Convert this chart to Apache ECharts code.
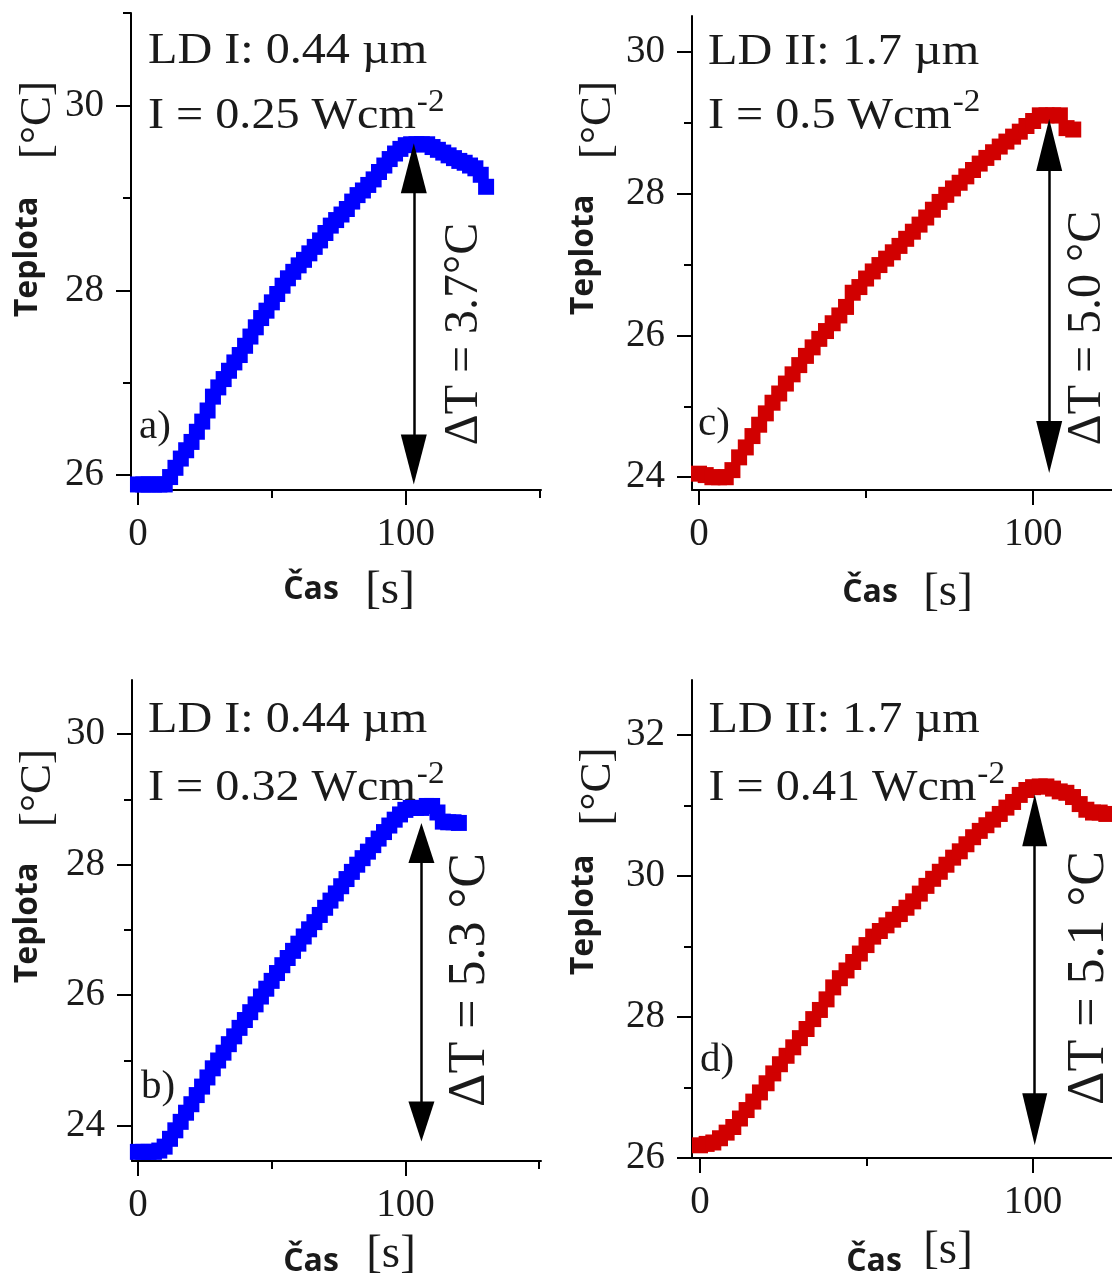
<!DOCTYPE html>
<html>
<head>
<meta charset="utf-8">
<script src="https://cdn.jsdelivr.net/npm/echarts@6/dist/echarts.min.js"></script>
<style>
html,body{margin:0;padding:0;background:#fff;}
#chart{width:1112px;height:1276px;}
</style>
</head>
<body>
<div id="chart"></div>
<script>
// time samples [s]
const timeS = [0,2,4,6,8,10,12,14,16,18,20,22,24,26,28,30,32,34,36,38,40,42,44,46,48,50,52,54,56,58,60,62,64,66,68,70,72,74,76,78,80,82,84,86,88,90,92,94,96,98,100,102,104,106,108,110,112,114,116,118,120,122,124,126,128,130];

// a) LD I, 0.25 W/cm2
const tempA = [25.9,25.9,25.9,25.9,25.9,25.9,
 25.98,26.08,26.18,26.27,26.36,26.47,26.58,26.7,26.85,26.95,
 27.04,27.13,27.22,27.3,27.4,27.5,27.6,27.7,27.78,27.87,
 27.96,28.05,28.13,28.2,28.27,28.33,28.4,28.47,28.54,28.62,
 28.7,28.76,28.82,28.88,28.96,29.03,29.08,29.14,29.2,29.28,
 29.35,29.42,29.48,29.53,29.57,29.58,29.58,29.58,29.58,29.55,
 29.52,29.49,29.46,29.43,29.4,29.38,29.35,29.32,29.25,29.12];
// b) LD I, 0.32 W/cm2
const tempB = [23.6,23.6,23.6,23.6,23.62,23.68,
 23.8,23.93,24.06,24.2,24.33,24.47,24.6,24.74,24.88,25.0,
 25.12,25.25,25.37,25.5,25.62,25.74,25.86,25.98,26.1,26.22,
 26.34,26.46,26.57,26.68,26.79,26.9,27.01,27.12,27.23,27.34,
 27.45,27.56,27.67,27.78,27.89,28.0,28.1,28.2,28.3,28.4,
 28.5,28.6,28.69,28.77,28.84,28.87,28.87,28.87,28.9,28.9,
 28.8,28.66,28.65,28.65,28.64];
// c) LD II, 0.5 W/cm2
const tempC = [24.05,24.03,24.0,24.0,24.0,24.1,
 24.28,24.42,24.58,24.74,24.9,25.05,25.18,25.32,25.45,25.58,
 25.71,25.83,25.95,26.06,26.17,26.28,26.4,26.6,26.68,26.8,
 26.9,26.99,27.08,27.17,27.26,27.36,27.46,27.56,27.66,27.77,
 27.88,27.98,28.07,28.15,28.24,28.33,28.42,28.5,28.58,28.66,
 28.73,28.8,28.87,28.95,29.02,29.1,29.1,29.1,29.1,28.92,
 28.9];
// d) LD II, 0.41 W/cm2
const tempD = [26.18,26.2,26.22,26.28,26.36,26.44,
 26.56,26.68,26.8,26.93,27.06,27.2,27.33,27.45,27.57,27.7,
 27.83,27.97,28.1,28.25,28.42,28.55,28.66,28.78,28.9,29.02,
 29.14,29.22,29.3,29.38,29.46,29.55,29.64,29.75,29.86,29.96,
 30.06,30.16,30.26,30.35,30.45,30.55,30.64,30.72,30.8,30.88,
 30.97,31.05,31.15,31.22,31.26,31.27,31.27,31.24,31.2,31.18,
 31.12,31.02,30.94,30.9,30.9,30.88];

// delta-T arrows: time position, lower tip, upper tip
const arrowX    = [103, 106, 104.8, 100.5];
const arrowLow  = [25.9, 23.76, 24.06, 26.18];
const arrowHigh = [29.59, 28.64, 29.05, 31.16];

// axis ranges and ticks
const xMin = [-2.6, -2.2, -2.1, -2.4];
const xMax = [150.5, 150.7, 123.6, 123.7];
const yMin = [25.84, 23.46, 23.82, 26];
const yMax = [31.0, 30.83, 30.5, 32.78];
const xMajor = [0, 100];
const xMinorAB = [50, 150];
const xMinorCD = [50];
const yMajorA = [26, 28, 30], yMinorA = [27, 29, 31];
const yMajorB = [24, 26, 28, 30], yMinorB = [25, 27, 29];
const yMajorC = [24, 26, 28, 30], yMinorC = [25, 27, 29];
const yMajorD = [26, 28, 30, 32], yMinorD = [27, 29, 31];

const panelLabels = ['a)', 'b)', 'c)', 'd)'];
const line1 = ['LD I: 0.44 \u00b5m', 'LD I: 0.44 \u00b5m', 'LD II: 1.7 \u00b5m', 'LD II: 1.7 \u00b5m'];
const line2 = ['I = 0.25 Wcm', 'I = 0.32 Wcm', 'I = 0.5 Wcm', 'I = 0.41 Wcm'];
const supText = '-2';
const dtText = ['\u0394T = 3.7\u00b0C', '\u0394T = 5.3 \u00b0C', '\u0394T = 5.0 \u00b0C', '\u0394T = 5.1 \u00b0C'];

const BLUE = '#0000ff', RED = '#d10000';
const SERIF = 'Liberation Serif';
const SANS = 'Open Sans';

// panel layout (order a, b, c, d)
const grids = [
  {left:131, top:13,  width:410, height:477},
  {left:132, top:680, width:409, height:481},
  {left:692, top:16,  width:420, height:474},
  {left:692, top:680, width:420, height:478}
];
const temps = [tempA, tempB, tempC, tempD];
const colors = [BLUE, BLUE, RED, RED];
const yMajors = [yMajorA, yMajorB, yMajorC, yMajorD];
const yMinors = [yMinorA, yMinorB, yMinorC, yMinorD];
const xMinors = [xMinorAB, xMinorAB, xMinorCD, xMinorCD];

const xAxes = [], yAxes = [], series = [];
const HEAD_H = [50, 40, 52, 52];
const HEAD_W = [26, 26, 26, 25];
for (let i = 0; i < 4; i++) {
  const axisLine = {show:true, onZero:false, lineStyle:{color:'#000', width:2}};
  xAxes.push({gridIndex:i, type:'value', position:'bottom', min:xMin[i], max:xMax[i],
    axisLine: axisLine,
    axisTick:{show:true, length:15, customValues:xMajor, lineStyle:{color:'#000', width:2}},
    axisLabel:{show:true, customValues:xMajor, margin:25, fontFamily:SERIF, fontSize:39, color:'#1a1a1a'},
    splitLine:{show:false}});
  xAxes.push({gridIndex:i, type:'value', position:'bottom', min:xMin[i], max:xMax[i],
    axisLine:{show:false, onZero:false},
    axisTick:{show:true, length:8, customValues:xMinors[i], lineStyle:{color:'#000', width:2}},
    axisLabel:{show:false}, splitLine:{show:false}});
  yAxes.push({gridIndex:i, type:'value', position:'left', min:yMin[i], max:yMax[i],
    axisLine: axisLine,
    axisTick:{show:true, length:15, customValues:yMajors[i], lineStyle:{color:'#000', width:2}},
    axisLabel:{show:true, customValues:yMajors[i], margin:27, fontFamily:SERIF, fontSize:39, color:'#1a1a1a'},
    splitLine:{show:false}});
  yAxes.push({gridIndex:i, type:'value', position:'left', min:yMin[i], max:yMax[i],
    axisLine:{show:false, onZero:false},
    axisTick:{show:true, length:8, customValues:yMinors[i], lineStyle:{color:'#000', width:2}},
    axisLabel:{show:false}, splitLine:{show:false}});

  const pts = temps[i].map((v, k) => [timeS[k], v]);
  // arrow: symbols are centred on the end points, so pull ends in by half the head length
  const pxPerUnit = grids[i].height / (yMax[i] - yMin[i]);
  const inset = (HEAD_H[i] / 2) / pxPerUnit;
  series.push({
    type:'scatter', xAxisIndex:2*i, yAxisIndex:2*i, data:pts,
    symbol:'rect', symbolSize:16, itemStyle:{color:colors[i], opacity:1},
    silent:true, animation:false,
    markLine:{silent:true, animation:false, symbol:['triangle','triangle'], symbolSize:[HEAD_W[i], HEAD_H[i]],
      lineStyle:{color:'#000', width:2.5, type:'solid'}, label:{show:false},
      itemStyle:{color:'#000'},
      emphasis:{disabled:true},
      data:[[{coord:[arrowX[i], arrowLow[i] + inset]}, {coord:[arrowX[i], arrowHigh[i] - inset]}]]}
  });
}

const measureCtx = document.createElement('canvas').getContext('2d');
function textWidth(t, size, family) {
  measureCtx.font = size + 'px "' + family + '"';
  return measureCtx.measureText(t).width;
}

function txt(t, x, y, size, opts) {
  opts = opts || {};
  return {type:'text', x:x, y:y, rotation:opts.rot || 0, scaleX:opts.sx || 1, silent:true, z:10,
    style:{text:t, fill:'#1a1a1a', fontSize:size, fontFamily:opts.family || SERIF,
      fontWeight:opts.weight || 'normal',
      align:opts.align || 'left', verticalAlign:'middle',
      textAlign:opts.align || 'left', textVerticalAlign:'middle'}};
}
const R = Math.PI / 2;
const ANN = 45, ANN_SX = 1.07, SUP = 31;
function header(i, left, y1, y2) {
  const w = textWidth(line2[i], ANN, SERIF) * ANN_SX;
  return [
    txt(line1[i], left, y1, ANN, {sx:ANN_SX}),
    txt(line2[i], left, y2, ANN, {sx:ANN_SX}),
    txt(supText, left + w + 1, y2 - 13, SUP, {sx:ANN_SX})
  ];
}
const graphic = [].concat(
  // panel a
  header(0, 148, 51, 116),
  [txt(panelLabels[0], 139, 427, 41),
  txt(dtText[0], 464, 334, 48, {rot:R, align:'center'}),
  txt('Teplota', 28, 257, 32, {rot:R, align:'center', family:SANS, weight:'bold'}),
  txt('[\u00b0C]', 38.5, 120, 45, {rot:R, align:'center'}),
  txt('\u010cas', 311, 590, 32, {align:'center', family:SANS, weight:'bold'}),
  txt('[s]', 390, 591, 47, {align:'center'})],
  // panel c
  header(2, 708, 52.5, 116),
  [txt(panelLabels[2], 698, 424, 41),
  txt(dtText[2], 1087, 328, 48, {rot:R, align:'center'}),
  txt('Teplota', 584, 255, 32, {rot:R, align:'center', family:SANS, weight:'bold'}),
  txt('[\u00b0C]', 598, 120, 45, {rot:R, align:'center'}),
  txt('\u010cas', 870, 593, 32, {align:'center', family:SANS, weight:'bold'}),
  txt('[s]', 948, 593, 47, {align:'center'})],
  // panel b
  header(1, 148, 720, 788),
  [txt(panelLabels[1], 141, 1087, 41),
  txt(dtText[1], 470, 980, 52, {rot:R, align:'center'}),
  txt('Teplota', 28, 923, 32, {rot:R, align:'center', family:SANS, weight:'bold'}),
  txt('[\u00b0C]', 38.5, 788, 45, {rot:R, align:'center'}),
  txt('\u010cas', 311, 1262, 32, {align:'center', family:SANS, weight:'bold'}),
  txt('[s]', 391, 1255, 47, {align:'center'})],
  // panel d
  header(3, 708.5, 720, 788),
  [txt(panelLabels[3], 700, 1060, 41),
  txt(dtText[3], 1089, 978, 52, {rot:R, align:'center'}),
  txt('Teplota', 583.5, 915, 32, {rot:R, align:'center', family:SANS, weight:'bold'}),
  txt('[\u00b0C]', 598, 786.5, 45, {rot:R, align:'center'}),
  txt('\u010cas', 874, 1262, 32, {align:'center', family:SANS, weight:'bold'}),
  txt('[s]', 948, 1251, 47, {align:'center'})]
);

const chart = echarts.init(document.getElementById('chart'), null, {renderer:'canvas'});
chart.setOption({
  backgroundColor:'#ffffff',
  animation:false,
  grid: grids.map(g => Object.assign({containLabel:false}, g)),
  xAxis: xAxes,
  yAxis: yAxes,
  series: series,
  graphic: graphic
});
</script>
</body>
</html>
